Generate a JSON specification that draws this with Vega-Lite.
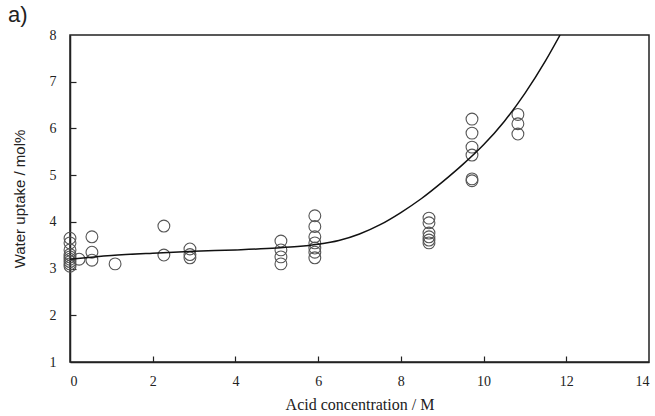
{
  "$schema": "https://vega.github.io/schema/vega-lite/v6.json",
  "autosize": {"type": "none"},
  "padding": {"left": 70, "top": 35, "right": 6, "bottom": 54},
  "width": 579,
  "height": 327,
  "title": {
    "text": "a)",
    "anchor": "start",
    "frame": "group",
    "dx": -62,
    "dy": 9,
    "offset": 10,
    "font": "Liberation Sans",
    "fontSize": 22,
    "fontWeight": "normal",
    "color": "#222"
  },
  "config": {
    "view": {"stroke": "#222", "strokeWidth": 1.5},
    "axis": {
      "grid": false,
      "domainColor": "#222",
      "domainWidth": 1.5,
      "tickColor": "#222",
      "tickWidth": 1.2,
      "labelFont": "Liberation Serif",
      "labelFontSize": 14,
      "labelColor": "#222",
      "titleColor": "#222",
      "titleFontWeight": "normal"
    }
  },
  "datasets": {
    "uptake": [
      {"acid": 0, "water": 3.65}, {"acid": 0, "water": 3.55}, {"acid": 0, "water": 3.4},
      {"acid": 0, "water": 3.3}, {"acid": 0, "water": 3.25}, {"acid": 0, "water": 3.2},
      {"acid": 0, "water": 3.15}, {"acid": 0, "water": 3.1}, {"acid": 0, "water": 3.05},
      {"acid": 0.22, "water": 3.2},
      {"acid": 0.53, "water": 3.68}, {"acid": 0.53, "water": 3.35}, {"acid": 0.53, "water": 3.18},
      {"acid": 1.09, "water": 3.1},
      {"acid": 2.27, "water": 3.91}, {"acid": 2.27, "water": 3.29},
      {"acid": 2.9, "water": 3.42}, {"acid": 2.9, "water": 3.3}, {"acid": 2.9, "water": 3.23},
      {"acid": 5.1, "water": 3.59}, {"acid": 5.1, "water": 3.4}, {"acid": 5.1, "water": 3.25}, {"acid": 5.1, "water": 3.1},
      {"acid": 5.92, "water": 4.13}, {"acid": 5.92, "water": 3.9}, {"acid": 5.92, "water": 3.68},
      {"acid": 5.92, "water": 3.55}, {"acid": 5.92, "water": 3.44}, {"acid": 5.92, "water": 3.35},
      {"acid": 5.92, "water": 3.23},
      {"acid": 8.68, "water": 4.08}, {"acid": 8.68, "water": 3.98}, {"acid": 8.68, "water": 3.76},
      {"acid": 8.68, "water": 3.68}, {"acid": 8.68, "water": 3.61}, {"acid": 8.68, "water": 3.55},
      {"acid": 9.72, "water": 6.2}, {"acid": 9.72, "water": 5.9}, {"acid": 9.72, "water": 5.6},
      {"acid": 9.72, "water": 5.43}, {"acid": 9.72, "water": 4.92}, {"acid": 9.72, "water": 4.88},
      {"acid": 10.83, "water": 6.3}, {"acid": 10.83, "water": 6.1}, {"acid": 10.83, "water": 5.88}
    ],
    "fit": [
      {"acid": 0, "water": 3.2}, {"acid": 1, "water": 3.28}, {"acid": 2, "water": 3.33},
      {"acid": 3, "water": 3.37}, {"acid": 4, "water": 3.4}, {"acid": 5, "water": 3.44},
      {"acid": 5.5, "water": 3.47}, {"acid": 6, "water": 3.52}, {"acid": 6.5, "water": 3.6},
      {"acid": 7, "water": 3.74}, {"acid": 7.5, "water": 3.94}, {"acid": 8, "water": 4.2},
      {"acid": 8.5, "water": 4.5}, {"acid": 9, "water": 4.85}, {"acid": 9.5, "water": 5.23},
      {"acid": 10, "water": 5.65}, {"acid": 10.5, "water": 6.15}, {"acid": 11, "water": 6.75},
      {"acid": 11.5, "water": 7.45}, {"acid": 11.85, "water": 8.0}
    ]
  },
  "resolve": {"axis": {"x": "independent", "y": "independent"}},
  "layer": [
    {
      "data": {"name": "uptake"},
      "mark": {"type": "point", "shape": "circle", "size": 140, "filled": false, "stroke": "#555", "strokeWidth": 1.1, "opacity": 1},
      "encoding": {
        "x": {
          "field": "acid", "type": "quantitative",
          "scale": {"domain": [0, 14], "nice": false, "zero": false},
          "axis": {
            "orient": "bottom",
            "values": [0, 2, 4, 6, 8, 10, 12, 14],
            "ticks": false,
            "title": "Acid concentration / M",
            "titleFont": "Liberation Serif",
            "titleFontSize": 16,
            "titlePadding": 8,
            "labelPadding": 12
          }
        },
        "y": {
          "field": "water", "type": "quantitative",
          "scale": {"domain": [1, 8], "nice": false, "zero": false},
          "axis": {
            "orient": "left",
            "values": [1, 2, 3, 4, 5, 6, 7, 8],
            "ticks": false,
            "title": "Water uptake / mol%",
            "titleFont": "Liberation Sans",
            "titleFontSize": 15,
            "titlePadding": 22,
            "labelPadding": 14
          }
        }
      }
    },
    {
      "data": {"name": "fit"},
      "mark": {"type": "line", "interpolate": "monotone", "color": "#111", "strokeWidth": 1.5, "clip": true},
      "encoding": {
        "x": {
          "field": "acid", "type": "quantitative",
          "axis": {
            "orient": "bottom",
            "offset": -6,
            "values": [2, 4, 6, 8, 10, 12],
            "domain": false,
            "labels": false,
            "ticks": true,
            "tickSize": 6,
            "title": null
          }
        },
        "y": {
          "field": "water", "type": "quantitative",
          "axis": {
            "orient": "left",
            "offset": -6,
            "values": [2, 3, 4, 5, 6, 7],
            "domain": false,
            "labels": false,
            "ticks": true,
            "tickSize": 6,
            "title": null
          }
        }
      }
    }
  ]
}
